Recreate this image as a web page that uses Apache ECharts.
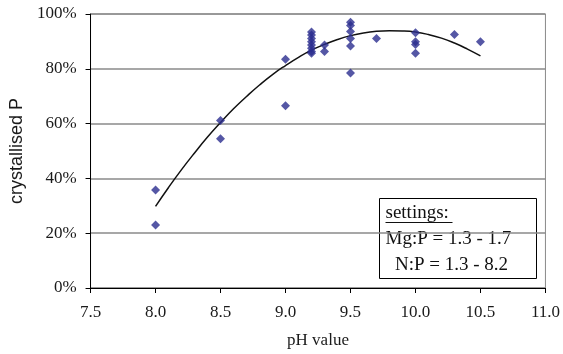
<!DOCTYPE html>
<html>
<head>
<meta charset="utf-8">
<script src="https://cdn.jsdelivr.net/npm/echarts@6/dist/echarts.min.js"></script>
<style>
  html, body { margin: 0; padding: 0; background: #fff; }
  #chart { width: 563px; height: 354px; }
</style>
</head>
<body>
<div id="chart"></div>
<script>
// measured points (pH, crystallised P %)
const phValues = [
  8.0, 8.0, 8.5, 8.5, 9.0, 9.0,
  9.2, 9.2, 9.2, 9.2, 9.2, 9.2, 9.2, 9.2,
  9.3, 9.3,
  9.5, 9.5, 9.5, 9.5, 9.5, 9.5,
  9.7,
  10.0, 10.0, 10.0, 10.0,
  10.3, 10.5
]
const crystP = [
  35.8, 23.0, 61.1, 54.5, 83.5, 66.5,
  93.4, 92.3, 91.1, 89.9, 88.7, 87.5, 86.3, 85.7,
  88.7, 86.3,
  97.0, 95.8, 93.6, 91.1, 88.3, 78.5,
  91.1,
  93.2, 89.9, 88.9, 85.7,
  92.5, 89.9
]

// trend line
const trendX = [8.0, 8.1, 8.2, 8.3, 8.4, 8.5, 8.6, 8.7, 8.8, 8.9, 9.0, 9.1, 9.2, 9.3,
  9.4, 9.5, 9.6, 9.7, 9.8, 9.9, 10.0, 10.1, 10.2, 10.3, 10.4, 10.5]
const trendY = [29.8, 36.7, 43.2, 49.3, 55.1, 60.4, 65.4, 69.9, 74.1, 77.9, 81.2, 84.2, 86.8, 88.9,
  90.7, 92.1, 93.1, 93.7, 93.9, 93.8, 93.4, 92.5, 91.2, 89.4, 87.2, 84.7]

const settingsLines = ['settings:', 'Mg:P = 1.3 - 1.7', '  N:P = 1.3 - 8.2']

const serif = 'Liberation Serif'
const sans = 'Liberation Sans'

const chart = echarts.init(document.getElementById('chart'), null, { renderer: 'canvas' })

const option = {
  animation: false,
  backgroundColor: '#fff',
  grid: {
    left: 81,
    right: 16,
    top: 14,
    bottom: 65,
    show: true,
    borderColor: '#8a8a8a',
    borderWidth: 1
  },
  xAxis: {
    type: 'value',
    min: 7.5,
    max: 11.0,
    interval: 0.5,
    name: 'pH value',
    nameLocation: 'middle',
    nameGap: 44,
    nameTextStyle: { fontFamily: serif, fontSize: 17, color: '#1a1a1a' },
    axisLine: { show: true, lineStyle: { color: '#000', width: 1 } },
    axisTick: { show: true, inside: false, length: 5, lineStyle: { color: '#000' } },
    axisLabel: {
      margin: 16,
      fontFamily: serif,
      fontSize: 17,
      color: '#1a1a1a',
      formatter: v => v.toFixed(1)
    },
    splitLine: { show: false }
  },
  yAxis: {
    type: 'value',
    min: 0,
    max: 100,
    interval: 20,
    name: 'crystallised P',
    nameLocation: 'middle',
    nameGap: 63,
    nameTextStyle: { fontFamily: sans, fontSize: 18, color: '#1a1a1a' },
    axisLine: { show: true, lineStyle: { color: '#000', width: 1 } },
    axisTick: { show: true, inside: false, length: 5, lineStyle: { color: '#000' } },
    axisLabel: {
      margin: 14,
      fontFamily: serif,
      fontSize: 17,
      color: '#1a1a1a',
      formatter: '{value}%'
    },
    splitLine: { show: true, lineStyle: { color: '#8a8a8a', width: 1.5 } }
  },
  series: [
    {
      type: 'line',
      data: trendX.map((x, i) => [x, trendY[i]]),
      smooth: true,
      showSymbol: false,
      lineStyle: { color: '#111', width: 1.5 },
      z: 3
    },
    {
      type: 'scatter',
      data: phValues.map((x, i) => [x, crystP[i]]),
      symbol: 'diamond',
      symbolSize: 9,
      itemStyle: { color: '#2b2d8e' },
      z: 4
    }
  ],
  graphic: [
    {
      type: 'group',
      left: 379,
      top: 198,
      children: [
        {
          type: 'rect',
          shape: { x: 0, y: 0, width: 157, height: 80 },
          style: { fill: '#fff', stroke: '#000', lineWidth: 1 }
        },
        {
          type: 'text',
          x: 6, y: 15,
          style: { text: settingsLines[0], font: '19px "Liberation Serif"', fill: '#111', textVerticalAlign: 'middle' }
        },
        {
          type: 'line',
          shape: { x1: 6, y1: 24, x2: 73, y2: 24 },
          style: { stroke: '#111', lineWidth: 1 }
        },
        {
          type: 'text',
          x: 6, y: 41,
          style: { text: settingsLines[1], font: '19px "Liberation Serif"', fill: '#111', textVerticalAlign: 'middle' }
        },
        {
          type: 'text',
          x: 6, y: 67,
          style: { text: settingsLines[2], font: '19px "Liberation Serif"', fill: '#111', textVerticalAlign: 'middle', whiteSpace: 'pre' }
        }
      ]
    }
  ]
}

chart.setOption(option)
</script>
</body>
</html>
